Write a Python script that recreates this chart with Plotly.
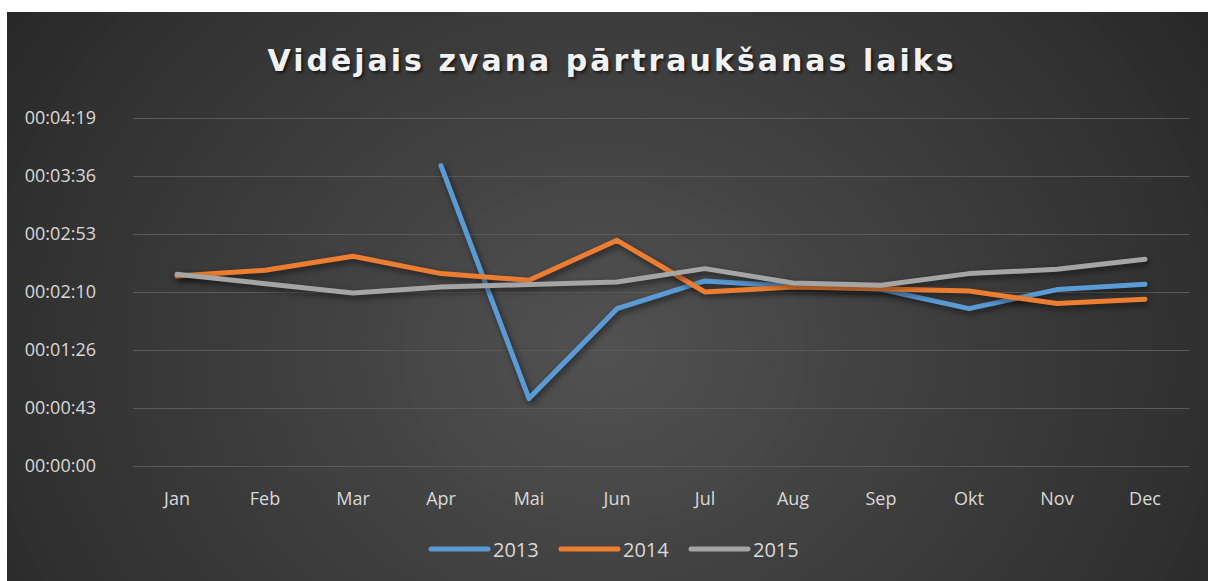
import plotly.graph_objects as go

# ---------------- data ----------------
months = ["Jan", "Feb", "Mar", "Apr", "Mai", "Jun", "Jul", "Aug", "Sep", "Okt", "Nov", "Dec"]
# average call abandon time, in seconds
s2013 = [None, None, None, 223.7, 50.2, 117.2, 137.8, 133.8, 131.6, 117.2, 131.4, 135.3]
s2014 = [141.5, 145.8, 156.2, 143.3, 138.3, 168.1, 129.6, 133.3, 132.1, 130.3, 121.0, 124.2]
s2015 = [142.8, 136.3, 128.9, 133.3, 135.3, 137.0, 147.0, 136.3, 134.6, 143.3, 146.5, 154.0]
tick_vals = [0, 43.2, 86.4, 129.6, 172.8, 216.0, 259.2]
tick_text = ["00:00:00", "00:00:43", "00:01:26", "00:02:10", "00:02:53", "00:03:36", "00:04:19"]
series_names = ["2013", "2014", "2015"]
series_colors = ["#5B9BD5", "#ED7D31", "#A5A5A5"]
title_text = "Vidējais zvana pārtraukšanas laiks"

# ---------------- layout geometry ----------------
FW, FH = 1208, 581
ML, MR, MT, MB = 133, 19, 116, 115
PW, PH = FW - ML - MR, FH - MT - MB
y_top = tick_vals[-1] * PH / (PH - 2)   # leave 2px so the top gridline is drawn


def px2x(px):
    return (px - ML) / PW


def py2y(py):
    return (FH - MB - py) / PH


fig = go.Figure()
for name, vals, col in zip(series_names, [s2013, s2014, s2015], series_colors):
    fig.add_trace(go.Scatter(
        x=months, y=vals, name=name, mode="lines",
        line=dict(color=col, width=5), connectgaps=False,
    ))

# background radial gradient (Excel dark style)
shapes = []
cx, cy, ax, ay = 604, 350, 597, 510
c0, k = 82, 34
N = 44
rmax = 1.35
for i in range(N):
    r = rmax * (1 - i / N)
    v = int(round(max(30, c0 - k * r)))
    col = f"rgb({v},{v},{v})"
    shapes.append(dict(
        type="circle", xref="paper", yref="paper", layer="below",
        x0=px2x(cx - r * ax), x1=px2x(cx + r * ax),
        y0=py2y(cy + r * ay), y1=py2y(cy - r * ay),
        fillcolor=col, line=dict(width=0),
    ))
# white margins top and left
shapes.append(dict(type="rect", xref="paper", yref="paper", layer="below",
                   x0=px2x(-5), x1=px2x(FW + 5), y0=py2y(12), y1=py2y(-5),
                   fillcolor="white", line=dict(width=0)))
shapes.append(dict(type="rect", xref="paper", yref="paper", layer="below",
                   x0=px2x(-5), x1=px2x(7), y0=py2y(FH + 5), y1=py2y(-5),
                   fillcolor="white", line=dict(width=0)))

label_font = dict(family="Open Sans, sans-serif", size=18, color="#D9D9D9")
legend_font = dict(family="Open Sans, sans-serif", size=20, color="#D9D9D9")

fig.update_layout(
    width=FW, height=FH, autosize=False,
    margin=dict(l=ML, r=MR, t=MT, b=MB, pad=0, autoexpand=False),
    paper_bgcolor="white",
    plot_bgcolor="rgba(0,0,0,0)",
    shapes=shapes,
    title=dict(
        text=title_text,
        x=612 / FW, xref="container", xanchor="center",
        y=1 - 60 / FH, yref="container", yanchor="middle",
        font=dict(family="DejaVu Sans, sans-serif", size=30, color="#F2F2F2",
                  weight="bold", shadow="2px 2px 3px rgba(0,0,0,0.6)"),
    ),
    xaxis=dict(
        type="category", range=[-0.5, 11.5], automargin=False,
        showgrid=False, zeroline=False, showline=False,
        tickfont=label_font, ticks="", ticklabelstandoff=20, tickangle=0,
    ),
    yaxis=dict(
        range=[0, y_top], tickvals=tick_vals, ticktext=tick_text, automargin=False,
        showgrid=True, gridcolor="#5A5A5A", gridwidth=1,
        zeroline=True, zerolinecolor="#5A5A5A", zerolinewidth=1,
        showline=False, tickfont=label_font, ticks="", ticklabelstandoff=36,
    ),
    legend=dict(
        orientation="h", x=px2x(621), xref="paper", xanchor="center",
        y=py2y(549), yref="paper", yanchor="middle",
        font=legend_font, bgcolor="rgba(0,0,0,0)",
        tracegroupgap=0, itemwidth=57,
        entrywidth=58, entrywidthmode="pixels",
    ),
    showlegend=True,
)

post = """
document.body.style.margin = '0';
document.body.style.padding = '0';
var s = document.createElement('style');
s.innerHTML = '.gtitle { letter-spacing: 3px; }' +
  '.scatterlayer .js-line { stroke-linecap: round; stroke-linejoin: round; ' +
  'filter: drop-shadow(2px 3px 3px rgba(0,0,0,0.55)); }' +
  '.legendlines path { stroke-linecap: round; }';
document.head.appendChild(s);
"""
fig.write_html("out.html", post_script=post, config={"displayModeBar": False})
